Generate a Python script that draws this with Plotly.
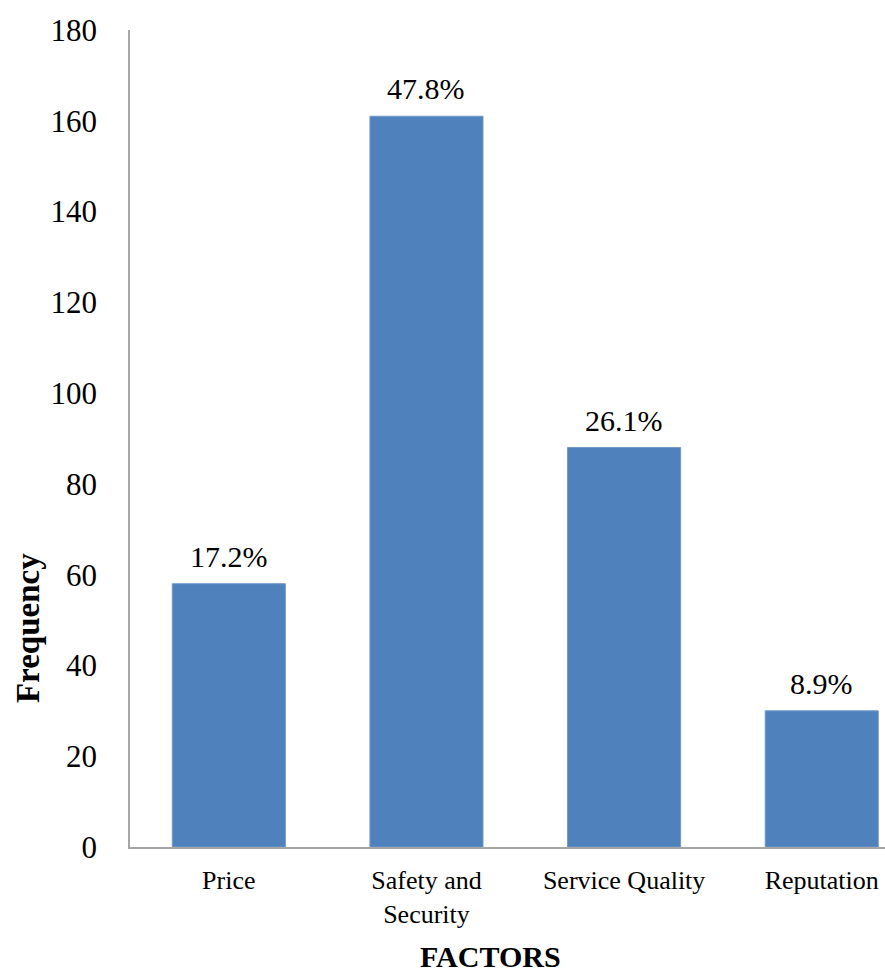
import plotly.graph_objects as go

# Survey results: factors influencing choice
categories = ["Price", "Safety and<br>Security", "Service Quality", "Reputation"]
frequency = [58, 161, 88, 30]
percent_labels = ["17.2%", "47.8%", "26.1%", "8.9%"]
y_ticks = [0, 20, 40, 60, 80, 100, 120, 140, 160, 180]

SERIF = "Liberation Serif"
BAR_COLOR = "#4F81BD"
AXIS_COLOR = "#A6A6A6"

fig = go.Figure()
fig.add_trace(go.Bar(
    x=categories,
    y=frequency,
    marker=dict(color=BAR_COLOR, line=dict(color="#6F97C9", width=1)),
    hoverinfo="x+y",
))

# Percentage labels above each bar
for cat, val, lab in zip(categories, frequency, percent_labels):
    fig.add_annotation(
        x=cat, y=val, text=lab, showarrow=False,
        yanchor="bottom", yshift=9,
        font=dict(family=SERIF, size=30, color="#000000"),
    )

# Axis titles
fig.add_annotation(
    text="<b>Frequency</b>", textangle=-90, showarrow=False,
    xref="paper", yref="paper", x=0, y=0.268,
    xanchor="center", yanchor="middle", xshift=-102,
    font=dict(family=SERIF, size=33, color="#000000"),
)
fig.add_annotation(
    text="<b>FACTORS</b>", showarrow=False,
    xref="paper", yref="paper", x=0.477, y=0,
    xanchor="center", yanchor="bottom", yshift=-128,
    font=dict(family=SERIF, size=30, color="#000000"),
)

fig.update_layout(
    width=885, height=976,
    margin=dict(l=130, r=0, t=30, b=129),
    paper_bgcolor="white", plot_bgcolor="white",
    bargap=0.428,
    showlegend=False,
    xaxis=dict(
        range=[-0.5, 3.32],
        showline=True, linecolor=AXIS_COLOR, linewidth=1.5,
        showgrid=False, zeroline=False,
        ticks="outside", ticklen=0,
        ticklabelstandoff=9,
        tickfont=dict(family=SERIF, size=26, color="#000000"),
    ),
    yaxis=dict(
        range=[0, 180],
        tickvals=y_ticks,
        showline=True, linecolor=AXIS_COLOR, linewidth=1.5,
        showgrid=False, zeroline=False,
        ticks="outside", ticklen=0,
        ticklabelstandoff=25,
        tickfont=dict(family=SERIF, size=31, color="#000000"),
    ),
)

fig.write_html("out.html")
